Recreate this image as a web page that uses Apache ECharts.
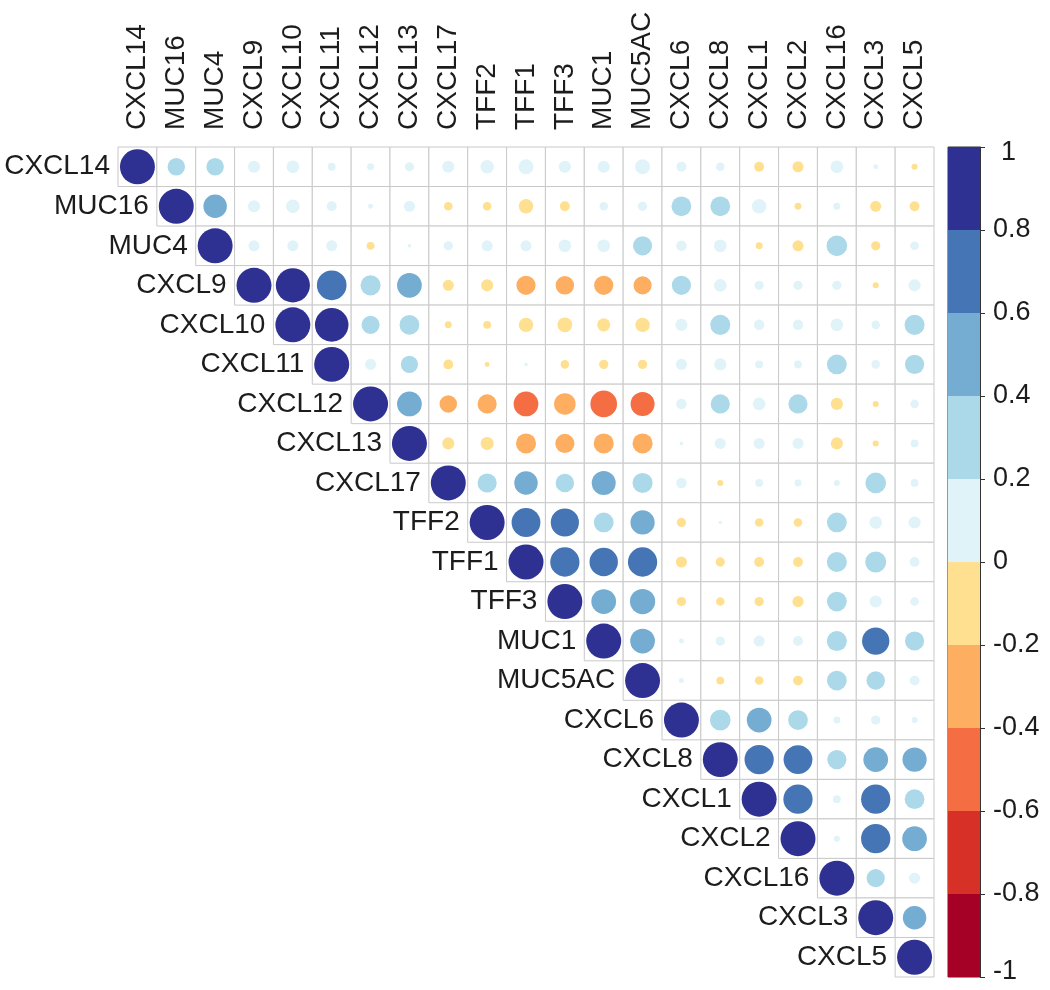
<!DOCTYPE html>
<html><head><meta charset="utf-8">
<script src="https://cdn.jsdelivr.net/npm/echarts@6/dist/echarts.min.js"></script>
<style>html,body{margin:0;padding:0;background:#fff}#c{width:1050px;height:990px}</style>
</head><body><div id="c"></div>
<script>
// Variable order (rows and columns)
const genes = ['CXCL14','MUC16','MUC4','CXCL9','CXCL10','CXCL11','CXCL12','CXCL13','CXCL17',
  'TFF2','TFF1','TFF3','MUC1','MUC5AC','CXCL6','CXCL8','CXCL1','CXCL2','CXCL16','CXCL3','CXCL5'];

// Upper triangle of the correlation matrix: row i lists columns i..20 (starting at the diagonal)
const corrUpper = [
  [1, 0.25, 0.25, 0.12, 0.13, 0.05, 0.04, 0.07, 0.12, 0.15, 0.18, 0.12, 0.12, 0.18, 0.08, 0.06, -0.08, -0.1, 0.13, 0.02, -0.03],
  [1, 0.45, 0.12, 0.15, 0.08, 0.02, 0.1, -0.06, -0.06, -0.17, -0.08, 0.06, 0.07, 0.32, 0.32, 0.17, -0.04, 0.04, -0.1, -0.08],
  [1, 0.1, 0.1, 0.1, -0.05, 0.01, 0.07, 0.1, 0.1, 0.13, 0.13, 0.3, 0.09, 0.13, -0.04, -0.1, 0.35, -0.07, 0.06],
  [1, 0.95, 0.72, 0.33, 0.5, -0.1, -0.12, -0.3, -0.28, -0.3, -0.27, 0.3, 0.13, 0.07, 0.07, 0.07, -0.03, 0.12],
  [1, 0.92, 0.27, 0.32, -0.04, -0.05, -0.17, -0.18, -0.14, -0.17, 0.12, 0.33, 0.09, 0.09, 0.13, 0.06, 0.33],
  [1, 0.1, 0.24, -0.08, -0.02, 0.01, -0.06, -0.07, -0.07, 0.1, 0.12, 0.05, 0.05, 0.32, 0.06, 0.3],
  [1, 0.5, -0.25, -0.3, -0.5, -0.38, -0.58, -0.47, 0.09, 0.3, 0.13, 0.3, -0.12, -0.03, 0.06],
  [1, -0.12, -0.14, -0.33, -0.3, -0.33, -0.33, 0.01, 0.1, 0.1, 0.1, -0.12, -0.03, 0.05],
  [1, 0.3, 0.45, 0.28, 0.47, 0.33, 0.09, -0.03, 0.05, 0.04, 0.03, 0.35, 0.05],
  [1, 0.68, 0.65, 0.32, 0.48, -0.07, 0.01, -0.06, -0.06, 0.32, 0.13, 0.12],
  [1, 0.7, 0.66, 0.7, -0.1, -0.07, -0.08, -0.08, 0.33, 0.36, 0.08],
  [1, 0.5, 0.52, -0.07, -0.06, -0.07, -0.1, 0.32, 0.12, 0.06],
  [1, 0.5, 0.02, 0.07, 0.1, 0.08, 0.33, 0.61, 0.3],
  [1, 0.02, -0.05, -0.06, -0.08, 0.32, 0.28, 0.08],
  [1, 0.35, 0.5, 0.32, 0.04, 0.07, 0.03],
  [1, 0.7, 0.68, 0.3, 0.5, 0.48],
  [1, 0.7, 0.05, 0.7, 0.32],
  [1, 0.03, 0.7, 0.5],
  [1, 0.27, 0.1],
  [1, 0.45],
  [1]
];

// Colour legend
const binStarts = [-1, -0.8, -0.6, -0.4, -0.2, 0, 0.2, 0.4, 0.6, 0.8];
const binColors = ['#a50026','#d73027','#f46d43','#fdae61','#fee090','#e0f3f8','#abd9e9','#74add1','#4575b4','#2e3192'];
const legendMin = -1, legendMax = 1, legendStep = 0.2;

function colorOf(v) {
  let k = Math.floor((v + 1) * 5 + 1e-9);
  if (k > 9) k = 9; if (k < 0) k = 0;
  return binColors[k];
}

const cells = [];
corrUpper.forEach((row, i) => row.forEach((v, k) => cells.push([i + k, i, v])));
const diag = genes.map((g, i) => [i, i]);
const topRow = genes.map((g, i) => [i, 0]);

const chart = echarts.init(document.getElementById('c'), null, {renderer: 'canvas'});
const txtColor = '#1c1c1c';
const font = "'Liberation Sans', Arial, sans-serif";
const fs = 28;

chart.setOption({
  backgroundColor: '#fff',
  animation: false,
  grid: [
    {left: 118, top: 147, width: 816, height: 830, show: false, outerBoundsMode: 'none'},
    {left: 948, top: 147, width: 32, height: 830, show: true, borderColor: '#333', borderWidth: 1, backgroundColor: 'transparent', outerBoundsMode: 'none'}
  ],
  xAxis: [
    {type: 'category', gridIndex: 0, data: genes, position: 'top', show: false},
    {type: 'category', gridIndex: 1, data: [''], show: false}
  ],
  yAxis: [
    {type: 'category', gridIndex: 0, data: genes, inverse: true, show: false},
    {type: 'value', gridIndex: 1, min: legendMin, max: legendMax, interval: legendStep, position: 'right',
     axisLine: {show: true, lineStyle: {color: '#333', width: 1}},
     axisTick: {show: true, length: 5, inside: false, lineStyle: {color: '#333'}},
     splitLine: {show: false},
     axisLabel: {fontSize: 27, color: txtColor, fontFamily: font, margin: 13,
       formatter: function (v) {
         const s = String(Number(v.toFixed(1)));
         if (v >= 0.999) return '{t|' + s + '}';
         if (v <= -0.999) return '{b|' + s + '}';
         return s;
       },
       rich: {
         t: {fontSize: 27, color: txtColor, fontFamily: font, padding: [12, 0, 0, 8]},
         b: {fontSize: 27, color: txtColor, fontFamily: font, padding: [0, 0, 10, 0]}
       }}}
  ],
  series: [
    {
      type: 'custom', xAxisIndex: 0, yAxisIndex: 0, data: cells, silent: true, z: 1,
      renderItem: function (params, api) {
        const p = api.coord([api.value(0), api.value(1)]);
        const s = api.size([1, 1]);
        return {type: 'rect', shape: {x: p[0] - s[0] / 2, y: p[1] - s[1] / 2, width: s[0], height: s[1]},
          style: {fill: '#fff', stroke: '#c9c9c9', lineWidth: 1}};
      }
    },
    {
      type: 'custom', xAxisIndex: 0, yAxisIndex: 0, data: cells, silent: true, z: 3,
      renderItem: function (params, api) {
        const v = api.value(2);
        const p = api.coord([api.value(0), api.value(1)]);
        const s = api.size([1, 1]);
        const r = 0.45 * Math.min(s[0], s[1]) * Math.sqrt(Math.abs(v));
        return {type: 'circle', shape: {cx: p[0], cy: p[1], r: r},
          style: {fill: colorOf(v)}};
      }
    },
    {
      // row labels beside the diagonal
      type: 'custom', xAxisIndex: 0, yAxisIndex: 0, data: diag, silent: true, z: 4,
      renderItem: function (params, api) {
        const p = api.coord([api.value(0), api.value(1)]);
        const s = api.size([1, 1]);
        return {type: 'text', x: p[0] - s[0] / 2 - 8, y: p[1],
          style: {text: genes[params.dataIndex], fill: txtColor, font: fs + 'px ' + font,
            align: 'right', verticalAlign: 'middle'}};
      }
    },
    {
      // column labels above the grid, reading bottom-to-top
      type: 'custom', xAxisIndex: 0, yAxisIndex: 0, data: topRow, silent: true, z: 4,
      renderItem: function (params, api) {
        const p = api.coord([api.value(0), api.value(1)]);
        const s = api.size([1, 1]);
        return {type: 'text', x: p[0], y: p[1] - s[1] / 2 - 17, rotation: Math.PI / 2,
          style: {text: genes[params.dataIndex], fill: txtColor, font: fs + 'px ' + font,
            align: 'left', verticalAlign: 'middle'}};
      }
    },
    {
      type: 'custom', xAxisIndex: 1, yAxisIndex: 1, data: binStarts.map(b => [0, b]), silent: true, z: 1,
      renderItem: function (params, api) {
        const b = api.value(1);
        const p0 = api.coord([0, b]);
        const p1 = api.coord([0, b + legendStep]);
        const w = api.size([1, 0])[0];
        return {type: 'rect', shape: {x: p0[0] - w / 2, y: p1[1], width: w, height: p0[1] - p1[1]},
          style: {fill: binColors[params.dataIndex]}};
      }
    }
  ]
});
</script></body></html>
